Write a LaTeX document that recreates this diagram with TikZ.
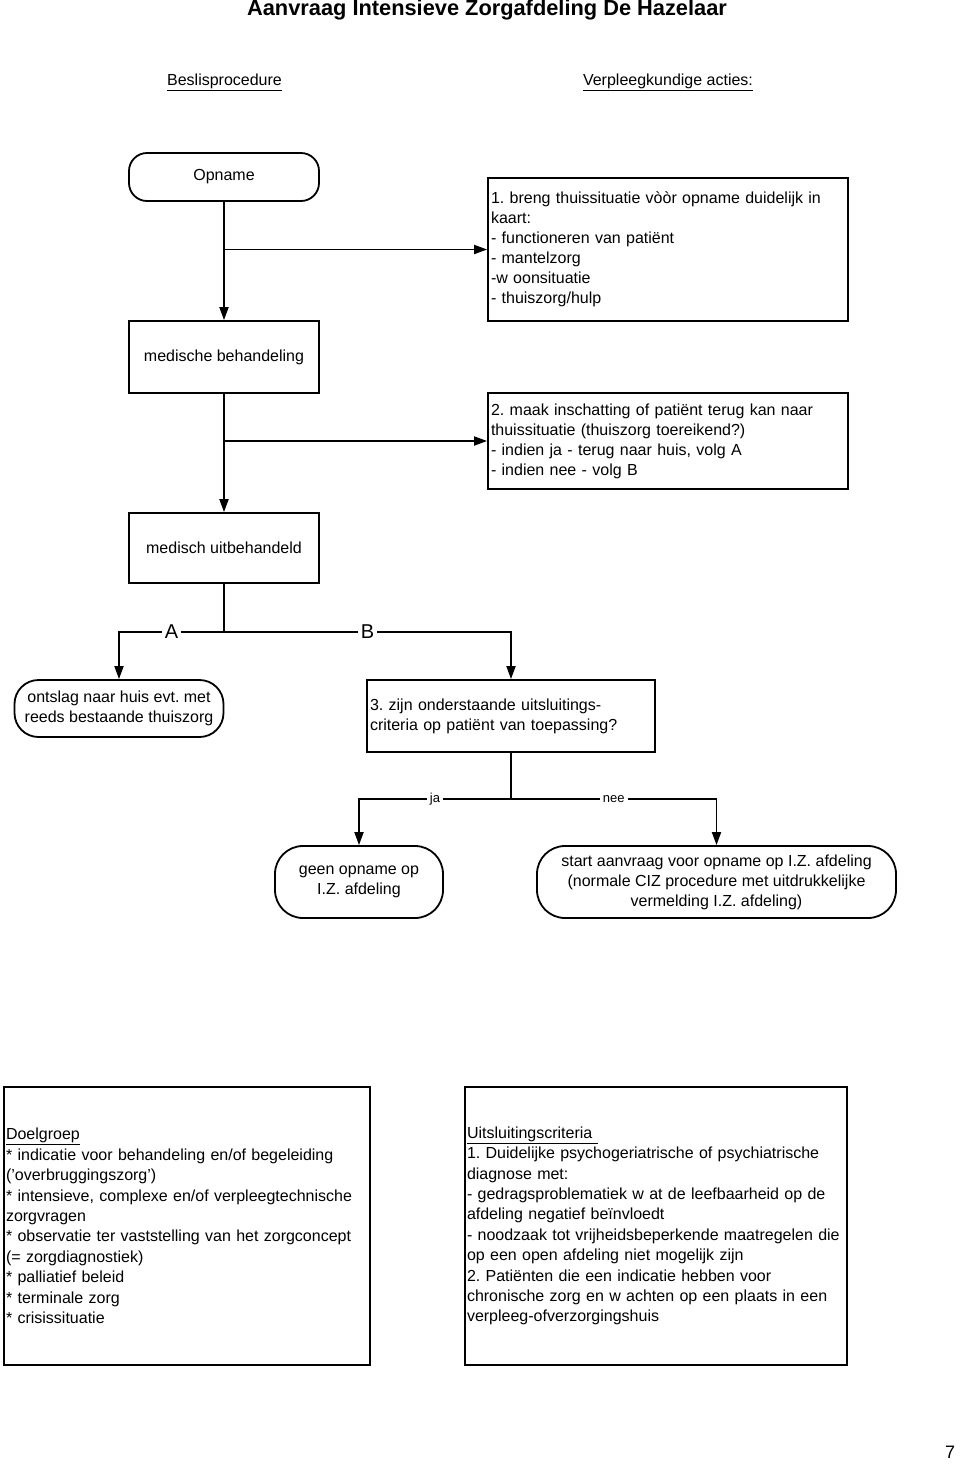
\documentclass[tikz,border=0pt]{standalone}
\usepackage{fontspec}
\setmainfont{Liberation Sans}
\usetikzlibrary{positioning,arrows.meta}
\frenchspacing

\begin{document}
\begin{tikzpicture}[x=1pt,y=-1pt,line width=1.8pt,>={Triangle[length=13pt,width=9pt]},
 font=\fontsize{16}{20}\selectfont,
 box/.style={draw,inner sep=3pt,align=left},
 term/.style={draw,rounded corners=24pt,align=center,inner sep=3pt},
 lbl/.style={fill=white,inner sep=3pt,font=\fontsize{20}{22}\selectfont},
 klein/.style={fill=white,inner sep=3pt,font=\fontsize{13}{15}\selectfont}]
 \useasboundingbox (0,0) rectangle (960,1467);
 \node (titel) at (487,10) {\fontsize{21.8}{24}\selectfont\bfseries Aanvraag Intensieve Zorgafdeling De Hazelaar};
 \node (kop_l) at (224.5,82) {\underline{Beslisprocedure}};
 \node (kop_r) at (668,82) {\underline{Verpleegkundige acties:}};
 \node[term,rounded corners=18pt,minimum width=190pt,minimum height=48pt] (opname) at (224,177) {Opname};
 \node[box,text width=354pt,minimum height=143pt] (act_1) at (668,249.5)
  {1. breng thuissituatie vòòr opname duidelijk in\\ kaart:\\ - functioneren van patiënt\\ - mantelzorg\\ -w oonsituatie\\ - thuiszorg/hulp};
 \node[draw,minimum width=190pt,minimum height=72pt] (behandeling) at (224,357) {medische behandeling};
 \node[box,text width=354pt,minimum height=96pt] (act_2) at (668,441)
  {2. maak inschatting of patiënt terug kan naar\\ thuissituatie (thuiszorg toereikend?)\\ - indien ja - terug naar huis, volg A\\ - indien nee - volg B};
 \node[draw,minimum width=190pt,minimum height=70pt] (uitbehandeld) at (224,548) {medisch uitbehandeld};
 \node[term,minimum width=209pt,minimum height=57pt] (ontslag) at (119,708.5)
  {ontslag naar huis evt. met\\ reeds bestaande thuiszorg};
 \node[box,text width=282pt,minimum height=72pt] (vraag_3) at (511,716)
  {3. zijn onderstaande uitsluitings-\\ criteria op patiënt van toepassing?};
 \node[term,rounded corners=28pt,minimum width=168pt,minimum height=72pt] (geen) at (359,882)
  {geen opname op\\ I.Z. afdeling};
 \node[term,rounded corners=28pt,minimum width=359pt,minimum height=72pt] (start) at (716.5,882)
  {start aanvraag voor opname op I.Z. afdeling\\ (normale CIZ procedure met uitdrukkelijke\\ vermelding I.Z. afdeling)};
 \node[box,inner xsep=2pt,text width=362pt,minimum height=278pt,font=\fontsize{16}{20.4}\selectfont] (doelgroep) at (187,1226)
  {\underline{Doelgroep}\\{}* indicatie voor behandeling en/of begeleiding\\ ('overbruggingszorg')\\{}%
   * intensieve, complexe en/of verpleegtechnische\\ zorgvragen\\{}%
   * observatie ter vaststelling van het zorgconcept\\ (= zorgdiagnostiek)\\{}%
   * palliatief beleid\\{}* terminale zorg\\{}* crisissituatie};
 \node[box,inner xsep=2pt,text width=378pt,minimum height=278pt,font=\fontsize{16}{20.4}\selectfont] (uitsluiting) at (656,1226)
  {\underline{Uitsluitingscriteria\ }\\ 1. Duidelijke psychogeriatrische of psychiatrische\\ diagnose met:\\
   - gedragsproblematiek w at de leefbaarheid op de\\ afdeling negatief beïnvloedt\\
   - noodzaak tot vrijheidsbeperkende maatregelen die\\ op een open afdeling niet mogelijk zijn\\
   2. Patiënten die een indicatie hebben voor\\ chronische zorg en w achten op een plaats in een\\ verpleeg-ofverzorgingshuis};
 \node (pagina) at (950,1452) {\fontsize{18}{20}\selectfont 7};
 % verbindingen
 \draw[->] (opname) -- (behandeling);
 \draw[->] (opname.south |- act_1.west) -- (act_1.west);
 \draw[->] (behandeling) -- (uitbehandeld);
 \draw[->] (behandeling.south |- act_2.west) -- (act_2.west);
 \coordinate (split_ab) at (224,632);
 \draw (uitbehandeld) -- (split_ab);
 \draw[->] (split_ab) -| node[lbl,pos=0.25] {A} (ontslag.north);
 \draw[->] (split_ab) -| node[lbl,pos=0.25] {B} (vraag_3.north);
 \coordinate (split_jn) at (511,799);
 \draw (vraag_3) -- (split_jn);
 \draw[->] (split_jn) -| node[klein,pos=0.25] {ja} (geen.north);
 \draw[->] (split_jn) -| node[klein,pos=0.25] {nee} (start.north);
\end{tikzpicture}
\end{document}
